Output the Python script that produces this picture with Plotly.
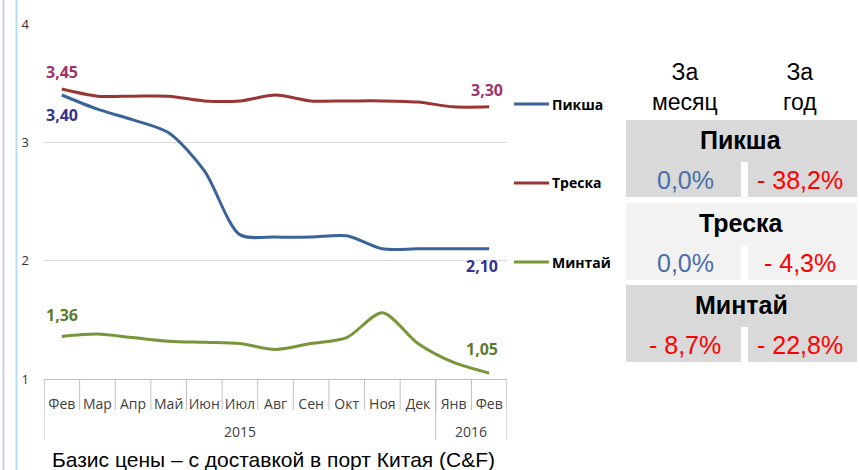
import plotly.graph_objects as go

# ---------------- data ----------------
months = ["Фев", "Мар", "Апр", "Май", "Июн", "Июл", "Авг", "Сен", "Окт", "Ноя", "Дек", "Янв", "Фев"]
years = ["2015", "2016"]
year_counts = [11, 2]

series_names = ["Пикша", "Треска", "Минтай"]
piksha = [3.40, 3.28, 3.19, 3.08, 2.76, 2.22, 2.20, 2.20, 2.21, 2.10, 2.10, 2.10, 2.10]
treska = [3.45, 3.39, 3.39, 3.39, 3.35, 3.35, 3.40, 3.35, 3.35, 3.35, 3.34, 3.30, 3.30]
mintai = [1.36, 1.38, 1.35, 1.32, 1.31, 1.30, 1.25, 1.30, 1.35, 1.56, 1.30, 1.14, 1.05]
y_ticks = [1, 2, 3, 4]

table_header = ["За<br>месяц", "За<br>год"]
month_change = ["0,0%", "0,0%", "- 8,7%"]
year_change = ["- 38,2%", "- 4,3%", "- 22,8%"]
footer = "Базис цены – с доставкой в порт Китая (C&F)"

# ---------------- styles ----------------
line_colors = ["#3a6399", "#993634", "#77963a"]
label_colors = ["#33338f", "#9b3468", "#5c7a2a"]
W, H = 859, 470
L, R, T, B = 44, 507, 24, 379


def px(x):
    return (x - L) / (R - L)


def py(y):
    return (B - y) / (B - T)


def fmt(v):
    return f"{v:.2f}".replace(".", ",")


def note(x, y, text, size, color, family="Liberation Sans", xanchor="center"):
    return dict(x=px(x), y=py(y), xref="paper", yref="paper", text=text, showarrow=False,
                xanchor=xanchor, yanchor="middle",
                font=dict(family=family, size=size, color=color))


all_series = [piksha, treska, mintai]
xs = list(range(len(months)))

fig = go.Figure()
for name, vals, col in zip(series_names, all_series, line_colors):
    fig.add_trace(go.Scatter(
        x=xs, y=vals, mode="lines", name=name,
        line=dict(color=col, width=3, shape="spline", smoothing=0.8),
        showlegend=False, hoverinfo="skip"))

annotations = []
shapes = []

# data labels at first and last point: (first shift, last shift)
label_offsets = [((0, -20), (-7, -17)), ((0, 17), (-2, 17)), ((0, 21), (-7, 24))]
for vals, col, offs in zip(all_series, label_colors, label_offsets):
    for idx, (dx, dy) in zip([0, len(vals) - 1], offs):
        annotations.append(dict(
            x=xs[idx], y=vals[idx], xref="x", yref="y", text=f"<b>{fmt(vals[idx])}</b>",
            showarrow=False, xshift=dx, yshift=dy, xanchor="center", yanchor="middle",
            font=dict(family="Open Sans", size=16, color=col)))

# category separators below axis
for i in range(len(months) + 1):
    shapes.append(dict(type="line", xref="x", yref="paper", x0=i - 0.5, x1=i - 0.5,
                       y0=py(379), y1=py(410), line=dict(color="#c0c0c0", width=1)))
# year group separators + year labels
start = 0
bounds = [0]
for yr, cnt in zip(years, year_counts):
    annotations.append(dict(x=start + (cnt - 1) / 2, y=py(431), xref="x", yref="paper",
                            text=yr, showarrow=False, xanchor="center", yanchor="middle",
                            font=dict(family="Open Sans", size=14, color="#404040")))
    start += cnt
    bounds.append(start)
for b in bounds:
    shapes.append(dict(type="line", xref="x", yref="paper", x0=b - 0.5, x1=b - 0.5,
                       y0=py(379), y1=py(440), line=dict(color="#c0c0c0", width=1)))

# custom legend
legend_y = [104, 183, 262]
for name, col, ly in zip(series_names, line_colors, legend_y):
    shapes.append(dict(type="line", xref="paper", yref="paper", x0=px(514), x1=px(549),
                       y0=py(ly), y1=py(ly), line=dict(color=col, width=3)))
    annotations.append(note(550, ly, f"<b>{name}</b>", 14, "#000000", family="Open Sans", xanchor="left"))

# left decorative double line
shapes.append(dict(type="line", xref="paper", yref="paper", x0=px(3.5), x1=px(3.5), y0=py(0), y1=py(470),
                   line=dict(color="#c5d3ea", width=2)))
shapes.append(dict(type="line", xref="paper", yref="paper", x0=px(16.5), x1=px(16.5), y0=py(0), y1=py(470),
                   line=dict(color="#b5dff0", width=2)))

# table on the right
col_x = [685, 800]
for hx, ht in zip(col_x, table_header):
    annotations.append(note(hx, 87, ht, 23, "#000000"))

row_tops = [120, 203, 285]
row_fill = ["#d9d9d9", "#f2f2f2", "#d9d9d9"]
for name, top, fill, mc, yc in zip(series_names, row_tops, row_fill, month_change, year_change):
    bot = top + 77
    split = top + 42
    shapes.append(dict(type="rect", xref="paper", yref="paper", x0=px(626), x1=px(857),
                       y0=py(top), y1=py(bot), fillcolor=fill, line=dict(width=0), layer="below"))
    shapes.append(dict(type="rect", xref="paper", yref="paper", x0=px(741), x1=px(748),
                       y0=py(split), y1=py(bot), fillcolor="#ffffff", line=dict(width=0), layer="below"))
    annotations.append(note(741, top + 20, f"<b>{name}</b>", 25, "#000000"))
    for cx, val in zip(col_x, [mc, yc]):
        color = "#ff0000" if val.strip().startswith("-") else "#4a6ea8"
        annotations.append(note(cx, top + 60, val, 25, color))

annotations.append(note(273, 460, footer, 21, "#000000"))

fig.update_layout(
    width=W, height=H,
    margin=dict(l=L, r=W - R, t=T, b=H - B, pad=0),
    paper_bgcolor="#ffffff", plot_bgcolor="#ffffff",
    xaxis=dict(range=[-0.5, len(months) - 0.5], tickmode="array", tickvals=xs, ticktext=months,
               showgrid=False, zeroline=False, showline=True, linecolor="#c0c0c0", linewidth=1,
               ticks="", ticklabelstandoff=12,
               tickfont=dict(family="Open Sans", size=14, color="#404040")),
    yaxis=dict(range=[1, 4], tickvals=y_ticks, showgrid=True, gridcolor="#d9d9d9", gridwidth=1,
               zeroline=False, showline=False, ticks="", ticklabelstandoff=14,
               tickfont=dict(family="Open Sans", size=13, color="#333333")),
    annotations=annotations, shapes=shapes,
)

fig.write_html("out.html", config={"displayModeBar": False},
               post_script="document.body.style.margin='0px';")
